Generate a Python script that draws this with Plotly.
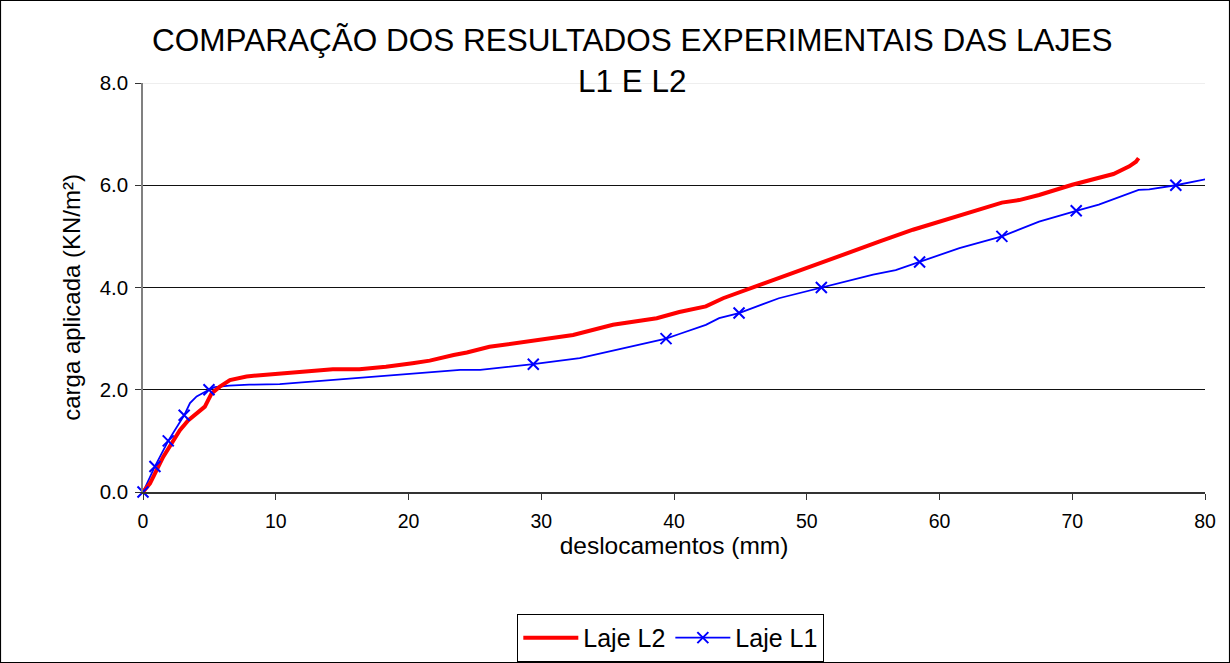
import plotly.graph_objects as go

# Laje L2 (red)
l2_x = [0, 0.53, 1.53, 2.78, 3.4, 4.04, 4.66, 5.17, 5.79, 6.55, 7.8, 9.05, 10.3, 12.3, 14.3, 16.3,
        18.3, 20.3, 21.6, 23.4, 24.4, 26.1, 27.9, 30.0, 32.4, 35.4, 38.7, 40.4, 42.4, 43.7, 45.4,
        50.4, 55.5, 58.0, 61.2, 63.0, 64.7, 66.0, 67.5, 70.0, 72.3, 73.1, 74.3, 74.8, 75.0]
l2_y = [0, 0.17, 0.69, 1.21, 1.40, 1.54, 1.67, 1.93, 2.06, 2.19, 2.26, 2.29, 2.32, 2.36, 2.40, 2.40,
        2.45, 2.52, 2.57, 2.68, 2.73, 2.84, 2.91, 2.98, 3.07, 3.27, 3.40, 3.52, 3.63, 3.79, 3.95,
        4.44, 4.90, 5.13, 5.39, 5.52, 5.66, 5.71, 5.81, 6.01, 6.16, 6.22, 6.37, 6.46, 6.53]

# Laje L1 (blue) - full curve
l1_x = [0, 0.9, 1.9, 3.1, 3.54, 4.04, 4.97, 5.4, 6.5, 8.0, 10.3, 17.8, 23.9, 25.4, 29.4, 32.9,
        36.6, 39.4, 40.4, 42.4, 43.4, 44.9, 47.9, 51.1, 55.0, 56.7, 58.5, 61.5, 64.7, 66.0,
        67.5, 70.3, 72.0, 75.0, 75.8, 77.8, 80.5]
l1_y = [0, 0.5, 1.0, 1.5, 1.74, 1.87, 2.0, 2.05, 2.08, 2.10, 2.11, 2.27, 2.39, 2.39, 2.5, 2.62,
        2.84, 3.0, 3.09, 3.27, 3.40, 3.5, 3.79, 4.0, 4.25, 4.34, 4.5, 4.77, 5.0, 5.13,
        5.29, 5.5, 5.62, 5.91, 5.92, 6.0, 6.14]

# Laje L1 marker points
l1_mx = [0, 0.9, 1.9, 3.1, 4.97, 29.4, 39.4, 44.9, 51.1, 58.5, 64.7, 70.3, 77.8]
l1_my = [0, 0.5, 1.0, 1.5, 2.0, 2.5, 3.0, 3.5, 4.0, 4.5, 5.0, 5.5, 6.0]

x_ticks = [0, 10, 20, 30, 40, 50, 60, 70, 80]
y_ticks = [0, 2, 4, 6, 8]
y_tick_text = ["0.0", "2.0", "4.0", "6.0", "8.0"]

FONT = "Liberation Sans, Arial, sans-serif"
RED = "#FF0000"
BLUE = "#0000FF"

fig = go.Figure()
fig.add_trace(go.Scatter(x=l1_x, y=l1_y, mode="lines", line=dict(color=BLUE, width=1.8),
                         showlegend=False, hoverinfo="skip", cliponaxis=False))
fig.add_trace(go.Scatter(x=l2_x, y=l2_y, mode="lines", name="Laje L2",
                         line=dict(color=RED, width=4), legendrank=1, cliponaxis=False))
fig.add_trace(go.Scatter(x=l1_mx, y=l1_my, mode="markers", showlegend=False, cliponaxis=False,
                         marker=dict(symbol="x-thin", size=11, line=dict(color=BLUE, width=2))))
fig.add_trace(go.Scatter(x=[None], y=[None], mode="lines+markers", name="Laje L1", legendrank=2,
                         line=dict(color=BLUE, width=1.8),
                         marker=dict(symbol="x-thin", size=11, line=dict(color=BLUE, width=2))))

fig.update_layout(
    width=1230, height=663,
    margin=dict(l=143, r=25, t=83, b=171, autoexpand=False),
    paper_bgcolor="white", plot_bgcolor="white",
    font=dict(family=FONT, color="black"),
    title=dict(text="COMPARAÇÃO DOS RESULTADOS EXPERIMENTAIS DAS LAJES<br>L1 E L2",
               x=0.514, xanchor="center", xref="container",
               y=1 - 51 / 663, yanchor="top", yref="container",
               font=dict(size=31.5, family=FONT, color="black")),
    xaxis=dict(range=[0, 80], tickvals=x_ticks, ticks="outside", ticklen=6, tickcolor="#333",
               showline=True, linecolor="#333", linewidth=1.5, showgrid=False, zeroline=False,
               tickfont=dict(size=19.5), fixedrange=True, ticklabelstandoff=5,
               title=dict(text="deslocamentos (mm)", font=dict(size=24.5), standoff=2)),
    yaxis=dict(range=[0, 8], tickvals=y_ticks, ticktext=y_tick_text, ticks="outside", ticklen=6,
               tickcolor="#333", showline=True, linecolor="#808080", linewidth=1.5,
               showgrid=True, gridcolor="#111", gridwidth=1, zeroline=False,
               tickfont=dict(size=20.5), fixedrange=True, ticklabelstandoff=3),
    legend=dict(orientation="h", x=0.497, xanchor="center", y=-0.298, yanchor="top",
                bordercolor="black", borderwidth=1, font=dict(size=25),
                traceorder="normal", itemwidth=55),
    annotations=[dict(text="carga aplicada (KN/m²)", textangle=-90, showarrow=False,
                      xref="paper", yref="paper", x=-0.0668, y=0.475,
                      xanchor="center", yanchor="middle", font=dict(size=24))],
    shapes=[dict(type="rect", xref="paper", yref="paper",
                 x0=-0.1342, x1=1.0231, y0=-0.4169, y1=1.2017,
                 line=dict(color="black", width=1.2), fillcolor="rgba(0,0,0,0)", layer="below"),
            dict(type="line", xref="paper", yref="y", x0=0, x1=1, y0=8, y1=8,
                 line=dict(color="#dddddd", width=1), layer="below")],
)

fig.write_html("out.html", config={"displayModeBar": False},
               post_script="document.body.style.margin='0';")
